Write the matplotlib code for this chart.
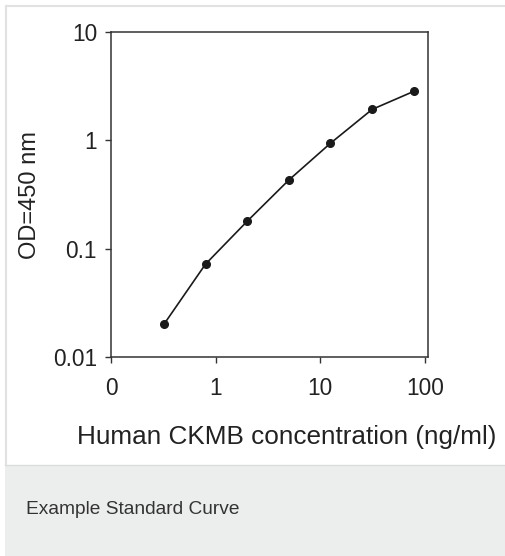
import numpy as np
import matplotlib.pyplot as plt
from matplotlib.patches import Rectangle
from matplotlib.lines import Line2D

plt.rcParams['font.family'] = ['Liberation Sans', 'DejaVu Sans']

# standard curve values
conc = [0.32, 0.8, 2.0, 5.0, 12.5, 31.25, 78.0]
od = [0.020, 0.072, 0.179, 0.43, 0.94, 1.93, 2.83]
xtick_vals = [0.1, 1, 10, 100]
xtick_labels = ['0', '1', '10', '100']
ytick_vals = [0.01, 0.1, 1, 10]
ytick_labels = ['0.01', '0.1', '1', '10']

W, H = 506, 556
fig = plt.figure(figsize=(W / 100, H / 100), dpi=100)
fig.patch.set_facecolor('white')

# card frame and caption band
fig.add_artist(Rectangle((5 / W, 0), 1, (H - 465) / H, transform=fig.transFigure,
                         facecolor='#eceeed', edgecolor='none', zorder=0))
fig.add_artist(Line2D([6 / W, 1], [1 - 6 / H, 1 - 6 / H], transform=fig.transFigure,
                      color='#e2e2e2', lw=1.5))
fig.add_artist(Line2D([6 / W, 6 / W], [(H - 465) / H, 1 - 6 / H], transform=fig.transFigure,
                      color='#e2e2e2', lw=1.5))
fig.add_artist(Line2D([5 / W, 1], [(H - 465) / H, (H - 465) / H], transform=fig.transFigure,
                      color='#dcdcdc', lw=1))

left, right, top, bottom = 111, 428, 32, 357
ax = fig.add_axes([left / W, (H - bottom) / H, (right - left) / W, (bottom - top) / H])
ax.set_xscale('log')
ax.set_yscale('log')
ax.plot(conc, od, color='#1a1a1a', lw=1.2, marker='o', ms=5.5,
        markerfacecolor='#1a1a1a', markeredgecolor='#1a1a1a')

ax.set_xlim(0.1, 10 ** (2 + 3 / 104.7))
ax.set_ylim(0.01, 10)
ax.set_xticks(xtick_vals)
ax.set_xticklabels(xtick_labels)
ax.set_yticks(ytick_vals)
ax.set_yticklabels(ytick_labels)
ax.minorticks_off()
ax.tick_params(axis='both', direction='out', length=4.5, width=1, color='#333333',
               labelsize=16.3, labelcolor='#222222')
ax.tick_params(axis='x', pad=10)
ax.tick_params(axis='y', pad=5.5)
for s in ax.spines.values():
    s.set_color('#333333')
    s.set_linewidth(1.1)

fig.text(30 / W, 1 - 195 / H, 'OD=450 nm', rotation=90, ha='center', va='center',
         fontsize=17, color='#222222')
fig.text(287 / W, 1 - 437 / H, 'Human CKMB concentration (ng/ml)', ha='center', va='center',
         fontsize=18.8, color='#222222')
fig.text(26 / W, 1 - 509 / H, 'Example Standard Curve', ha='left', va='center',
         fontsize=13.8, color='#333333')

fig.savefig('out.png', dpi=100)
